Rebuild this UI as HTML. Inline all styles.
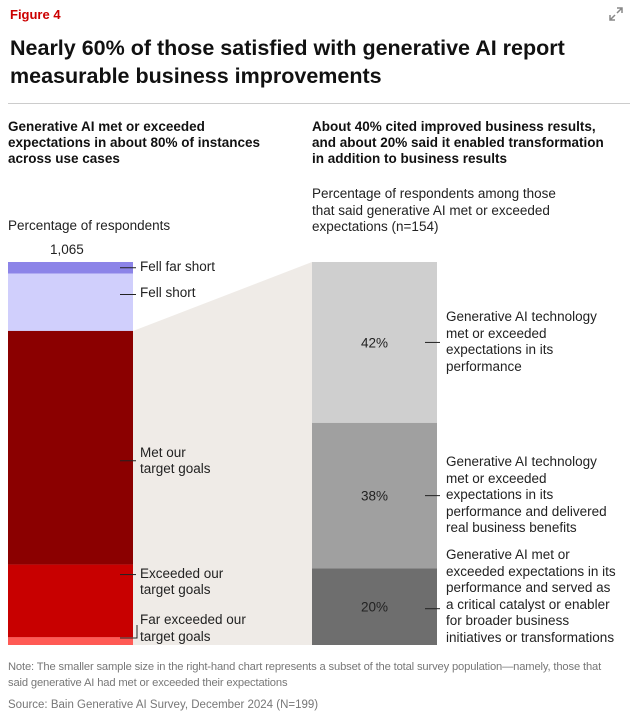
<!DOCTYPE html>
<html><head><meta charset="utf-8">
<style>
body{margin:0;width:634px;height:718px;background:#fff;font-family:"Liberation Sans",sans-serif;color:#222;position:relative;overflow:hidden}
.a{position:absolute;margin:0}
.lab{font-size:13.5px;line-height:16.5px;color:#222;white-space:nowrap}
</style></head><body>
<div class="a" style="left:10px;top:7px;font-size:13px;font-weight:bold;color:#cc0000">Figure 4</div>
<svg class="a" style="left:608px;top:6px" width="16" height="16" viewBox="0 0 16 16"><path d="M9 2h5v5M14 2l-5 5M7 14H2V9M2 14l5-5" stroke="#888" stroke-width="1.5" fill="none"/></svg>
<div class="a" style="left:10px;top:34px;width:600px;font-size:21.5px;font-weight:bold;line-height:28px;color:#111">Nearly 60% of those satisfied with generative AI report measurable business improvements</div>
<div class="a" style="left:8px;top:103px;width:622px;height:1px;background:#ccc"></div>
<div class="a" style="left:8px;top:119px;width:268px;font-size:13.5px;font-weight:bold;line-height:16px;color:#111">Generative AI met or exceeded expectations in about 80% of instances across use cases</div>
<div class="a" style="left:312px;top:119px;width:305px;font-size:13.5px;font-weight:bold;line-height:16px;color:#111">About 40% cited improved business results, and about 20% said it enabled transformation in addition to business results</div>
<div class="a lab" style="left:8px;top:218px">Percentage of respondents</div>
<div class="a lab" style="left:50px;top:242px">1,065</div>
<div class="a lab" style="left:312px;top:186px;width:268px;white-space:normal">Percentage of respondents among those that said generative AI met or exceeded expectations (n=154)</div>
<svg id="chart" class="a" style="left:0;top:0" width="634" height="718"></svg>
<div class="a" style="left:8px;top:659px;width:630px;font-size:11.2px;letter-spacing:-0.15px;line-height:16px;color:#777;white-space:nowrap">Note: The smaller sample size in the right-hand chart represents a subset of the total survey population—namely, those that<br>said generative AI had met or exceeded their expectations</div>
<div class="a" style="left:8px;top:699px;font-size:11.5px;color:#777">Source: Bain Generative AI Survey, December 2024 (N=199)</div>
<script>
const leftCats=["Fell far short","Fell short","Met our<br>target goals","Exceeded our<br>target goals","Far exceeded our<br>target goals"];
const leftVals=[3,15,61,19,2];
const leftColors=["#8c84e8","#d0cffc","#8b0000","#c80000","#ff5a55"];
const rightCats=["Generative AI technology<br>met or exceeded<br>expectations in its<br>performance","Generative AI technology<br>met or exceeded<br>expectations in its<br>performance and delivered<br>real business benefits","Generative AI met or<br>exceeded expectations in its<br>performance and served as<br>a critical catalyst or enabler<br>for broader business<br>initiatives or transformations"];
const rightVals=[42,38,20];
const rightColors=["#cfcfcf","#a0a0a0","#6e6e6e"];
const svg=document.getElementById('chart');const NS="http://www.w3.org/2000/svg";
const top0=262,H=383;
function y(v,tot){return top0+v/tot*H;}
function mk(t,a){const e=document.createElementNS(NS,t);for(const k in a)e.setAttribute(k,a[k]);svg.appendChild(e);return e;}
const lt=leftVals.reduce((a,b)=>a+b,0),rt=rightVals.reduce((a,b)=>a+b,0);
const failEnd=y(leftVals[0]+leftVals[1],lt);
const wedge=mk('polygon',{points:`133,${failEnd} 312,${top0} 312,${top0+H} 133,${top0+H}`,fill:"#efebe7"});


let c=0;
leftVals.forEach((v,i)=>{const y0=y(c,lt),y1=y(c+v,lt);c+=v;
 const r=mk('rect',{x:8,y:y0,width:125,height:y1-y0,fill:leftColors[i]});
 
 
 let ly=(y0+y1)/2, tp=ly-9;
 if(i==1){ly=y0+21;tp=ly-9;}
 if(i==2){ly=(y0+y1)/2+13;tp=ly-16;}
 if(i==3){ly=y0+10;tp=ly-9;}
 if(i==4){ly=y1-7;tp=y1-33;}
 if(i==4){mk('polyline',{points:`120,${ly} 137,${ly} 137,${ly-13}`,stroke:"#222","stroke-width":1,fill:"none"});}
 else mk('line',{x1:120,x2:136,y1:ly,y2:ly,stroke:"#222","stroke-width":1});
 const d=document.createElement('div');d.className='a lab';
 
 
 d.innerHTML=leftCats[i];
 d.style.left='140px';
 d.style.top=tp+'px';document.body.appendChild(d);});
c=0;
rightVals.forEach((v,i)=>{const y0=y(c,rt),y1=y(c+v,rt);c+=v;
 const r=mk('rect',{x:312,y:y0,width:125,height:y1-y0,fill:rightColors[i]});
 
 
 const m=(y0+y1)/2;
 const t=mk('text',{x:374.5,y:m+5,"text-anchor":"middle","font-size":"13.5","font-family":"Liberation Sans, sans-serif",fill:"#222"});
 t.textContent=v+"%";
 
 
 const lm=i==2?m+2:m;
 mk('line',{x1:425,x2:440,y1:lm,y2:lm,stroke:"#222","stroke-width":1});
 const d=document.createElement('div');d.className='a lab';
 
 
 d.innerHTML=rightCats[i];d.style.left='446px';
 document.body.appendChild(d);
 let tp=lm-d.offsetHeight/2; if(tp+d.offsetHeight>646)tp=646-d.offsetHeight;
 d.style.top=tp+'px';});
</script>
</body></html>
